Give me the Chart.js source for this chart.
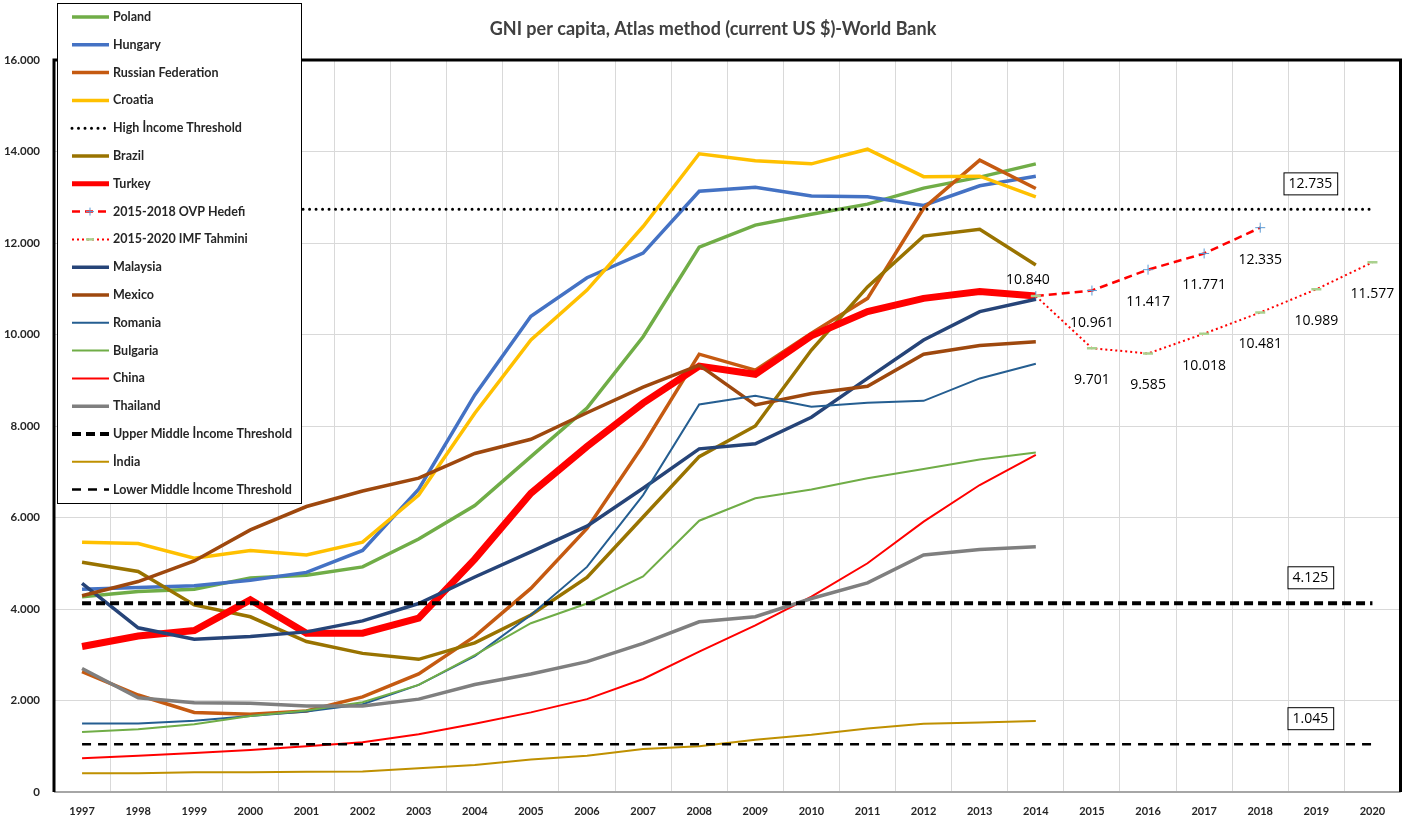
<!DOCTYPE html>
<html>
<head>
<meta charset="utf-8">
<script src="https://cdn.jsdelivr.net/npm/chart.js@4/dist/chart.umd.min.js"></script>
<style>
  body { margin: 0; background: #fff; }
  #wrap { width: 1408px; height: 818px; }
</style>
</head>
<body>
<div id="wrap"><canvas id="chart" width="1408" height="818"></canvas></div>
<script>
// years on the x axis
const years = ['1997','1998','1999','2000','2001','2002','2003','2004','2005','2006','2007','2008',
  '2009','2010','2011','2012','2013','2014','2015','2016','2017','2018','2019','2020'];

// GNI per capita, 1997-2014
const poland   = [4270,4380,4430,4680,4740,4920,5530,6260,7330,8390,9950,11910,12390,12630,12850,13200,13440,13730];
const hungary  = [4430,4470,4510,4630,4800,5280,6620,8680,10400,11240,11780,13130,13220,13030,13010,12820,13250,13460];
const russia   = [2630,2120,1740,1700,1770,2080,2580,3400,4450,5760,7580,9570,9220,10030,10790,12760,13810,13190];
const croatia  = [5460,5430,5110,5280,5180,5460,6490,8280,9880,10970,12360,13950,13800,13730,14050,13450,13460,13010];
const brazil   = [5020,4820,4090,3830,3290,3030,2900,3260,3870,4690,6010,7330,8000,9660,11040,12150,12300,11520];
const turkey   = [3180,3410,3530,4200,3470,3470,3800,5090,6530,7550,8500,9310,9130,9970,10500,10790,10940,10840];
const malaysia = [4560,3590,3340,3400,3500,3740,4120,4700,5250,5810,6640,7500,7610,8190,9040,9880,10500,10770];
const mexico   = [4290,4600,5050,5730,6240,6580,6860,7400,7710,8290,8850,9330,8460,8710,8870,9570,9760,9840];
const romania  = [1500,1500,1560,1660,1760,1920,2340,2970,3870,4920,6490,8470,8660,8420,8510,8550,9040,9360];
const bulgaria = [1310,1370,1480,1660,1780,1960,2340,2990,3690,4120,4710,5930,6420,6610,6860,7060,7270,7420];
const china    = [740,790,850,920,1000,1090,1260,1490,1740,2030,2470,3070,3640,4270,5000,5910,6710,7370];
const thailand = [2700,2060,1950,1940,1880,1880,2030,2350,2580,2850,3250,3720,3830,4230,4570,5180,5300,5360];
const india    = [410,410,430,430,440,450,520,590,710,790,940,1000,1140,1250,1390,1490,1520,1550];

// Turkey targets / forecasts, 2014 onward
const ovpYears = ['2014','2015','2016','2017','2018'];
const ovpTarget = [10840,10961,11417,11771,12335];
const imfYears = ['2014','2015','2016','2017','2018','2019','2020'];
const imfForecast = [10840,9701,9585,10018,10481,10989,11577];

// income thresholds
const highIncome = 12735;
const upperMiddle = 4125;
const lowerMiddle = 1045;

const yTicks = [0,2000,4000,6000,8000,10000,12000,14000,16000];

function fmt(v) {
  return String(v).replace(/\B(?=(\d{3})+(?!\d))/g, '.');
}

function fromYear(list, vals) {
  return years.map(y => {
    const i = list.indexOf(y);
    return i < 0 ? null : vals[i];
  });
}

function flat(v) {
  return years.map(() => v);
}

const series = [
  { label: 'Poland', data: poland, borderColor: '#70AD47', borderWidth: 3.5 },
  { label: 'Hungary', data: hungary, borderColor: '#4472C4', borderWidth: 3.5 },
  { label: 'Russian Federation', data: russia, borderColor: '#C55A11', borderWidth: 3.5 },
  { label: 'Croatia', data: croatia, borderColor: '#FFC000', borderWidth: 3.5 },
  { label: 'High İncome Threshold', data: flat(highIncome), borderColor: '#000', borderWidth: 3, borderDash: [0, 6.5], borderCapStyle: 'round', threshold: true },
  { label: 'Brazil', data: brazil, borderColor: '#997300', borderWidth: 3.5 },
  { label: 'Turkey', data: turkey, borderColor: '#FF0000', borderWidth: 7 },
  { label: '2015-2018 OVP Hedefi', data: fromYear(ovpYears, ovpTarget), borderColor: '#FF0000', borderWidth: 2.5, borderDash: [8, 5],
    pointStyle: 'cross', pointRadius: 5, pointBorderColor: '#5B9BD5', pointBorderWidth: 1, projection: true },
  { label: '2015-2020 IMF Tahmini', data: fromYear(imfYears, imfForecast), borderColor: '#FF0000', borderWidth: 2, borderDash: [2, 3],
    pointStyle: 'line', pointRadius: 5, pointBorderColor: '#A9D18E', pointBorderWidth: 2.5, projection: true },
  { label: 'Malaysia', data: malaysia, borderColor: '#264478', borderWidth: 3.5 },
  { label: 'Mexico', data: mexico, borderColor: '#9E480E', borderWidth: 3.5 },
  { label: 'Romania', data: romania, borderColor: '#255E91', borderWidth: 2 },
  { label: 'Bulgaria', data: bulgaria, borderColor: '#70AD47', borderWidth: 2 },
  { label: 'China', data: china, borderColor: '#FF0000', borderWidth: 2 },
  { label: 'Thailand', data: thailand, borderColor: '#7F7F7F', borderWidth: 3.5 },
  { label: 'Upper Middle İncome Threshold', data: flat(upperMiddle), borderColor: '#000', borderWidth: 4, borderDash: [9, 5], threshold: true },
  { label: 'İndia', data: india, borderColor: '#BF9000', borderWidth: 2 },
  { label: 'Lower Middle İncome Threshold', data: flat(lowerMiddle), borderColor: '#000', borderWidth: 2.5, borderDash: [9, 7], threshold: true }
];

const datasets = series.map((s, i) => Object.assign({
  fill: false,
  tension: 0,
  pointRadius: 0,
  pointHoverRadius: 0,
  spanGaps: false,
  order: series.length - i
}, s));

// frame, title, labels and the boxed legend, drawn over the chart
const decor = {
  id: 'decor',
  afterDatasetsDraw(chart) {
    const ctx = chart.ctx;
    const a = chart.chartArea;
    const x = chart.scales.x;
    const y = chart.scales.y;
    ctx.save();

    // plot frame
    ctx.strokeStyle = '#a6a6a6';
    ctx.lineWidth = 2;
    ctx.beginPath();
    ctx.moveTo(a.left, a.bottom);
    ctx.lineTo(a.right, a.bottom);
    ctx.stroke();
    ctx.strokeStyle = '#000';
    ctx.lineWidth = 3;
    ctx.beginPath();
    ctx.moveTo(a.left, a.bottom);
    ctx.lineTo(a.left, a.top);
    ctx.lineTo(a.right, a.top);
    ctx.lineTo(a.right, a.bottom);
    ctx.stroke();

    // title
    ctx.fillStyle = '#404040';
    ctx.font = 'bold 18px Lato';
    ctx.textAlign = 'center';
    ctx.textBaseline = 'middle';
    ctx.fillText('GNI per capita, Atlas method (current US $)-World Bank', 713, 29);

    // threshold value boxes at 2019
    ctx.font = '14px "Open Sans"';
    [highIncome, upperMiddle, lowerMiddle].forEach(v => {
      const cx = x.getPixelForValue(years.indexOf('2019')) - 6;
      const cy = y.getPixelForValue(v) - 26;
      const w = ctx.measureText(fmt(v)).width + 10;
      ctx.fillStyle = '#fff';
      ctx.fillRect(cx - w / 2, cy - 11, w, 22);
      ctx.strokeStyle = '#000';
      ctx.lineWidth = 1;
      ctx.strokeRect(cx - w / 2 + 0.5, cy - 10.5, w, 22);
      ctx.fillStyle = '#000';
      ctx.fillText(fmt(v), cx, cy + 1);
    });

    // projection value labels
    chart.data.datasets.forEach((ds, di) => {
      if (!ds.projection) return;
      const meta = chart.getDatasetMeta(di);
      ds.data.forEach((v, i) => {
        if (v === null) return;
        const pt = meta.data[i];
        if (years[i] === '2014') {
          if (di !== 7) return;
          ctx.fillText(fmt(v), pt.x - 8, pt.y - 16);
        } else {
          ctx.fillText(fmt(v), pt.x, pt.y + 32);
        }
      });
    });

    // legend box
    const lx = 57, ly = 3, lw = 244, lh = 500;
    ctx.fillStyle = '#fff';
    ctx.fillRect(lx, ly, lw, lh);
    ctx.strokeStyle = '#000';
    ctx.lineWidth = 1;
    ctx.strokeRect(lx + 0.5, ly + 0.5, lw, lh);
    ctx.font = 'bold 12.5px Lato';
    ctx.textAlign = 'left';
    chart.data.datasets.forEach((ds, i) => {
      const cy = 17 + i * 27.8;
      ctx.save();
      ctx.strokeStyle = ds.borderColor;
      ctx.lineWidth = Math.min(ds.borderWidth, 5);
      ctx.lineCap = ds.borderCapStyle || 'butt';
      ctx.setLineDash(ds.borderDash || []);
      ctx.beginPath();
      ctx.moveTo(72, cy);
      ctx.lineTo(109, cy);
      ctx.stroke();
      ctx.setLineDash([]);
      if (ds.pointStyle === 'cross') {
        ctx.strokeStyle = ds.pointBorderColor;
        ctx.lineWidth = 1;
        ctx.beginPath();
        ctx.moveTo(90, cy - 4); ctx.lineTo(90, cy + 4);
        ctx.moveTo(86, cy); ctx.lineTo(94, cy);
        ctx.stroke();
      } else if (ds.pointStyle === 'line') {
        ctx.strokeStyle = ds.pointBorderColor;
        ctx.lineWidth = 2.5;
        ctx.beginPath();
        ctx.moveTo(86, cy); ctx.lineTo(94, cy);
        ctx.stroke();
      }
      ctx.restore();
      ctx.fillStyle = '#262626';
      ctx.fillText(ds.label, 113, cy);
    });
    ctx.restore();
  }
};

new Chart(document.getElementById('chart'), {
  type: 'line',
  data: { labels: years, datasets: datasets },
  options: {
    responsive: false,
    animation: false,
    devicePixelRatio: 1,
    layout: { padding: { top: 60, right: 4, left: 0, bottom: 0 } },
    plugins: {
      legend: { display: false },
      title: { display: false },
      tooltip: { enabled: false }
    },
    scales: {
      x: {
        offset: true,
        grid: { offset: true, color: '#d9d9d9', lineWidth: 1, drawTicks: false },
        border: { display: false },
        ticks: { color: '#262626', font: { family: 'Lato', weight: 'bold', size: 11 }, padding: 13, maxRotation: 0, autoSkip: false },
        afterFit(scale) { scale.height = 26; }
      },
      y: {
        min: 0,
        max: 16000,
        afterBuildTicks(scale) { scale.ticks = yTicks.map(v => ({ value: v })); },
        grid: { color: '#d9d9d9', lineWidth: 1, drawTicks: false },
        border: { display: false },
        ticks: { color: '#262626', font: { family: 'Lato', weight: 'bold', size: 11.5 }, padding: 14, callback: v => fmt(v) },
        afterFit(scale) { scale.width = 54; }
      }
    }
  },
  plugins: [decor]
});
</script>
</body>
</html>
